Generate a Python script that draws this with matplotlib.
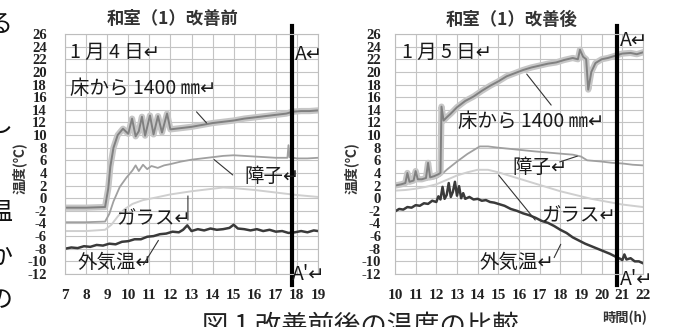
import matplotlib
matplotlib.use('Agg')
import matplotlib.pyplot as plt

plt.rcParams['font.family'] = ['Noto Sans CJK JP', 'DejaVu Sans']

W, H = 675, 327

# 改善前 1月4日
b_floor_h = [7.0, 8.0, 8.9, 9.05, 9.15, 9.3, 9.5, 9.75, 10.0, 10.18, 10.35, 10.5, 10.65, 10.8, 11.03, 11.2,
             11.41, 11.6, 11.84, 12.0, 12.5, 13.0, 13.5, 14.0, 14.5, 15.0, 15.5, 16.0, 16.5, 17.0, 17.5,
             17.8, 18.2, 18.6, 19.0]
b_floor = [-1.5, -1.5, -1.4, 1.5, 5.0, 8.0, 10.0, 11.0, 10.2, 12.6, 9.8, 10.6, 12.9, 9.9, 13.1, 10.1,
           13.0, 10.4, 13.4, 10.9, 11.1, 11.3, 11.6, 11.9, 12.1, 12.3, 12.6, 12.8, 13.0, 13.2, 13.4,
           13.7, 13.8, 13.8, 13.9]
b_shoji_h = [7.0, 8.0, 8.9, 9.1, 9.3, 9.6, 9.9, 10.2, 10.35, 10.5, 10.7, 10.9, 11.1, 11.4, 11.7, 12.0,
             12.5, 13.0, 13.5, 14.0, 14.5, 15.0, 15.5, 16.0, 16.5, 17.0, 17.55, 17.6, 17.65, 18.0, 18.5, 19.0]
b_shoji = [-3.8, -3.8, -3.7, -2.5, -0.5, 1.8, 3.2, 4.4, 5.2, 4.3, 5.3, 4.6, 5.1, 4.8, 5.2, 5.4,
           5.8, 6.1, 6.3, 6.5, 6.7, 6.8, 6.7, 6.6, 6.5, 6.4, 6.4, 8.4, 6.5, 6.3, 6.3, 6.4]
b_glass_h = [7, 8, 8.9, 9.2, 9.5, 9.8, 10.2, 10.7, 11.3, 12, 13, 14, 14.5, 15, 16, 17, 18, 19]
b_glass = [-5.2, -5.2, -5.0, -4.2, -2.9, -1.8, -0.9, -0.3, 0.1, 0.6, 1.1, 1.5, 1.7, 1.6, 1.3, 0.9, 0.5, 0.2]
b_out_h = [7.0, 7.3, 7.6, 7.9, 8.2, 8.5, 8.8, 9.1, 9.4, 9.7, 10.0, 10.3, 10.6, 10.9, 11.2, 11.5, 11.8,
           12.1, 12.4, 12.6, 12.8, 13.0, 13.3, 13.6, 13.9, 14.2, 14.5, 14.8, 15.0, 15.2, 15.5, 15.8,
           16.1, 16.4, 16.7, 17.0, 17.3, 17.6, 17.9, 18.2, 18.5, 18.8, 19.0]
b_out = [-8.0, -7.8, -7.9, -7.6, -7.7, -7.4, -7.5, -7.2, -7.3, -6.9, -6.8, -6.5, -6.5, -6.1, -6.0, -5.7, -5.6,
         -5.3, -5.4, -5.0, -4.3, -5.2, -4.9, -5.1, -4.8, -5.0, -4.9, -4.7, -4.2, -4.8, -4.9, -5.1,
         -4.9, -5.2, -5.0, -5.3, -5.2, -5.5, -5.4, -5.2, -5.4, -5.1, -5.2]

# 改善後 1月5日
a_floor_h = [10.0, 10.3, 10.5, 10.6, 10.7, 10.9, 11.0, 11.1, 11.3, 11.5, 11.6, 11.7, 11.9, 12.1, 12.2, 12.25,
             12.35, 12.5, 12.7, 13.0, 13.4, 13.8, 14.2, 14.6, 15.0, 15.4, 15.8, 16.2, 16.6, 17.0, 17.4,
             17.8, 18.2, 18.6, 18.85, 18.95, 19.1, 19.25, 19.35, 19.5, 19.7, 20.0, 20.3, 20.7, 21.0,
             21.4, 21.7, 22.0]
a_floor = [2.0, 2.2, 2.4, 4.0, 2.6, 2.8, 4.3, 3.0, 3.0, 3.2, 5.6, 3.3, 3.5, 3.8, 4.0, 14.5,
           12.3, 12.8, 13.4, 14.4, 15.4, 16.1, 17.0, 17.8, 18.5, 19.3, 19.8, 20.3, 20.7, 21.0, 21.3,
           21.5, 21.9, 22.2, 22.0, 23.5, 22.4, 22.0, 17.2, 20.0, 21.4, 22.0, 22.2, 22.6, 22.9,
           23.0, 22.8, 23.1]
a_shoji_h = [10, 10.5, 11, 11.5, 12, 12.2, 12.5, 13.0, 13.5, 14.1, 14.5, 15.0, 15.6, 16.2, 16.8, 17.5,
             18.2, 18.6, 19.0, 19.3, 20.0, 20.5, 21.0, 21.5, 22.0]
a_shoji = [2.3, 2.5, 2.7, 2.9, 3.2, 3.6, 4.5, 5.8, 7.0, 8.2, 8.2, 8.0, 7.8, 7.6, 7.4, 7.2,
           7.0, 6.9, 6.6, 6.0, 5.8, 5.6, 5.5, 5.3, 5.2]
a_glass_h = [10, 10.5, 11, 11.5, 12, 12.5, 13, 13.5, 14, 14.5, 15, 15.5, 16, 16.5, 17, 17.5, 18, 18.5,
             19, 19.5, 20, 20.5, 21, 21.5, 22]
a_glass = [1.2, 1.3, 1.5, 1.8, 2.2, 2.9, 3.6, 4.1, 4.5, 4.5, 4.1, 3.6, 3.1, 2.6, 2.1, 1.6, 1.1, 0.7,
           0.3, -0.1, -0.4, -0.7, -1.0, -1.2, -1.4]
a_out_h = [10.0, 10.2, 10.4, 10.6, 10.8, 11.0, 11.2, 11.4, 11.6, 11.8, 12.0, 12.1, 12.2, 12.3, 12.4, 12.5,
           12.6, 12.7, 12.8, 12.9, 13.0, 13.1, 13.2, 13.3, 13.4, 13.6, 13.8, 14.0, 14.2, 14.4, 14.6,
           14.8, 15.0, 15.3, 15.6, 15.9, 16.2, 16.5, 16.8, 17.1, 17.4, 17.7, 18.0, 18.3, 18.6, 18.9,
           19.2, 19.5, 19.8, 20.1, 20.4, 20.7, 20.9, 21.0, 21.1, 21.2, 21.4, 21.6, 21.8, 22.0]
a_out = [-2.1, -1.7, -1.8, -1.4, -1.5, -1.1, -1.2, -0.8, -0.9, -0.4, -0.6, 0.3, -0.2, 1.8, -0.1, 0.5,
         2.4, 0.2, 1.0, 2.6, 0.4, 1.9, 0.0, 0.8, -0.1, 0.2, -0.2, -0.1, -0.4, -0.3, -0.6,
         -0.7, -0.9, -1.2, -1.7, -2.0, -2.4, -2.7, -3.1, -3.6, -3.9, -4.4, -5.0, -5.5, -6.2, -6.7,
         -7.2, -7.6, -8.0, -8.4, -8.8, -9.3, -9.6, -9.8, -8.9, -9.7, -9.5, -10.0, -10.0, -10.3]

y_ticks = list(range(-12, 27, 2))
before_hours = list(range(7, 20))
after_hours = list(range(10, 23))
a_line_before = 17.77
a_line_after = 20.74

fig = plt.figure(figsize=(W / 100, H / 100), dpi=100)


def px_axes(x0, y0, x1, y1):
    return fig.add_axes([x0 / W, 1 - y1 / H, (x1 - x0) / W, (y1 - y0) / H])


def setup(ax, hours, ypad):
    ax.set_xlim(hours[0], hours[-1])
    ax.set_ylim(-12, 26)
    ax.set_xticks(hours, labels=[str(h) for h in hours],
                  fontfamily='Liberation Serif', fontweight='bold', fontsize=11)
    ax.set_yticks(y_ticks, labels=[str(v) for v in y_ticks],
                  fontfamily='Liberation Serif', fontweight='bold', fontsize=10.5)
    ax.tick_params(axis='both', length=0, colors='#222222')
    ax.tick_params(axis='y', pad=ypad)
    ax.tick_params(axis='x', pad=11)
    ax.grid(True, color='#c4c4c4', lw=0.8)
    ax.set_axisbelow(True)
    for s in ax.spines.values():
        s.set_color('#bdbdbd')
        s.set_linewidth(0.8)


def draw(ax, fh, f, sh, s, gh, g, oh, o):
    ax.plot(gh, g, color='#cfcfcf', lw=1.4)
    ax.plot(sh, s, color='#a0a0a0', lw=1.3)
    ax.plot(fh, f, color='#c6c6c6', lw=4.5, solid_joinstyle='round')
    ax.plot(fh, f, color='#808080', lw=1.4)
    ax.plot(oh, o, color='#3a3a3a', lw=1.8)


def note(ax, x, y, s, size=14):
    ax.text(x, y, s, fontsize=size, ha='left', va='center', color='#1a1a1a')


def leader(ax, p0, p1):
    ax.annotate('', xy=p1, xytext=p0, arrowprops=dict(arrowstyle='-', lw=0.8, color='#333333'))


def a_line(ax, x):
    ax.plot([x, x], [27.2, -13.8], color='black', lw=3, clip_on=False)


# left panel
ax1 = px_axes(65, 34, 318, 274)
setup(ax1, before_hours, 13)
draw(ax1, b_floor_h, b_floor, b_shoji_h, b_shoji, b_glass_h, b_glass, b_out_h, b_out)
a_line(ax1, a_line_before)
note(ax1, 7.24, 23.1, '1 月 4 日↵')
note(ax1, 7.24, 17.4, '床から 1400 ㎜↵')
note(ax1, 15.5, 3.4, '障子↵')
note(ax1, 9.45, -3.3, 'ガラス↵')
note(ax1, 7.6, -10.1, '外気温↵')
note(ax1, 17.9, 22.8, 'A↵')
note(ax1, 17.77, -12.0, "A'↵")
leader(ax1, (13.15, 14.0), (13.8, 11.6))
leader(ax1, (13.97, 6.4), (15.06, 3.4))
leader(ax1, (12.83, 0.8), (12.83, -3.9))
leader(ax1, (10.65, -10.9), (11.5, -6.3))

# right panel
ax2 = px_axes(395, 34, 643, 274)
setup(ax2, after_hours, 10)
draw(ax2, a_floor_h, a_floor, a_shoji_h, a_shoji, a_glass_h, a_glass, a_out_h, a_out)
a_line(ax2, a_line_after)
note(ax2, 10.34, 23.1, '1 月 5 日↵')
note(ax2, 13.05, 12.2, '床から 1400 ㎜↵')
note(ax2, 15.66, 4.9, '障子↵')
note(ax2, 17.1, -2.8, 'ガラス↵')
note(ax2, 14.1, -10.1, '外気温↵')
note(ax2, 20.89, 25.0, 'A↵')
note(ax2, 20.89, -12.9, "A'↵")
leader(ax2, (16.29, 20.0), (17.64, 14.4))
leader(ax2, (17.84, 5.6), (18.95, 6.8))
leader(ax2, (14.93, 4.0), (16.87, -3.8))
leader(ax2, (17.64, -9.8), (18.08, -6.9))

# titles, axis labels, caption
fig.text(173 / W, 1 - 19 / H, '和室（1）改善前', fontsize=12.5, fontweight='bold',
         ha='center', va='center', color='#333333')
fig.text(512 / W, 1 - 20 / H, '和室（1）改善後', fontsize=12.5, fontweight='bold',
         ha='center', va='center', color='#333333')
fig.text(19 / W, 1 - 168 / H, '温度(℃)', fontsize=10, fontweight='bold', rotation=90,
         ha='center', va='center', color='#333333')
fig.text(351 / W, 1 - 168 / H, '温度(℃)', fontsize=10, fontweight='bold', rotation=90,
         ha='center', va='center', color='#333333')
fig.text(625 / W, 1 - 318 / H, '時間(h)', fontsize=9.5, fontweight='bold',
         ha='center', va='center', color='#333333')
fig.text(202 / W, 1 - 313 / H, '図 1 改善前後の温度の比較', fontsize=19,
         ha='left', va='top', color='#222222')

# body text of the neighbouring column, cut off at the left edge as in the scan
for ch, yc in zip(['る', 'し', '温', 'か', 'の'], [25, 125, 214, 257, 300]):
    fig.text(0, 1 - yc / H, ch, fontsize=18, ha='center', va='center', color='#111111')

fig.savefig('out.png', dpi=100)
